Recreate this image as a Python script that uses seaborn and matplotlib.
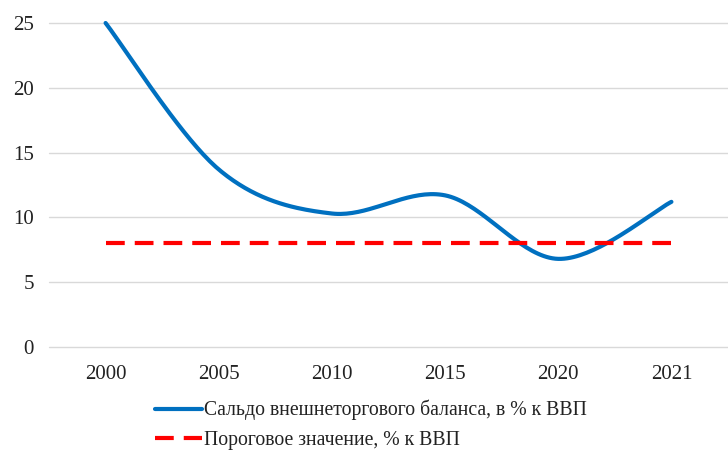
import numpy as np
import pandas as pd
import seaborn as sns
import matplotlib
matplotlib.use('Agg')
import matplotlib.pyplot as plt

# data
years = ['2000', '2005', '2010', '2015', '2020', '2021']
balance = [25.0, 13.7, 10.3, 11.7, 6.8, 11.2]
threshold = [8.0, 8.0, 8.0, 8.0, 8.0, 8.0]
label_balance = 'Сальдо внешнеторгового баланса, в % к ВВП'
label_threshold = 'Пороговое значение, % к ВВП'


def smooth(xs, ys, n=40):
    # Excel-style smoothed line: cubic Bezier segments with 1/6 tangents
    p = np.column_stack([xs, ys]).astype(float)
    out = []
    for i in range(len(p) - 1):
        p0 = p[i - 1] if i > 0 else p[i]
        p3 = p[i + 2] if i + 2 < len(p) else p[i + 1]
        a, b = p[i], p[i + 1]
        c1 = a + (b - p0) / 6
        c2 = b - (p3 - a) / 6
        t = np.linspace(0, 1, n)[:, None]
        seg = (1 - t) ** 3 * a + 3 * (1 - t) ** 2 * t * c1 + 3 * (1 - t) * t ** 2 * c2 + t ** 3 * b
        out.append(seg if i == 0 else seg[1:])
    return np.vstack(out)


pos = np.arange(len(years))
curve = smooth(pos, balance)
df_curve = pd.DataFrame({'x': curve[:, 0], 'y': curve[:, 1]})
df_thr = pd.DataFrame({'x': pos, 'y': threshold})

sns.set_style('white')
plt.rcParams['font.family'] = ['Liberation Serif', 'DejaVu Serif']

fig = plt.figure(figsize=(7.28, 4.51), dpi=100)
ax = fig.add_axes([49 / 728, 1 - 347 / 451, 1 - 49 / 728, (347 - 23) / 451])

sns.lineplot(data=df_curve, x='x', y='y', sort=False, ax=ax, color='#0070C0',
             linewidth=3, label=label_balance)
sns.lineplot(data=df_thr, x='x', y='y', ax=ax, color='#FF0000', linewidth=3,
             dashes=False, label=label_threshold)
ax.lines[1].set_dashes((4.5, 2.4))
ax.lines[1].set_dash_capstyle('butt')
for ln in ax.lines:
    ln.set_clip_on(False)

ax.set_xlim(-0.5, len(years) - 0.5)
ax.set_ylim(0, 25)
ax.set_yticks(range(0, 26, 5))
ax.set_xticks(pos)
ax.set_xticklabels(years)
ax.set_xlabel('')
ax.set_ylabel('')
ax.yaxis.grid(True, color='#d9d9d9', linewidth=1)
for g in ax.get_ygridlines():
    g.set_clip_on(False)
ax.set_axisbelow(True)
for s in ax.spines.values():
    s.set_visible(False)
ax.tick_params(axis='both', length=0, labelsize=15, colors='#222222')
ax.tick_params(axis='x', pad=13)
ax.tick_params(axis='y', pad=11)

handles, labels = ax.get_legend_handles_labels()
ax.legend_.remove()
leg = fig.legend(handles, labels, loc='upper left', bbox_to_anchor=(155 / 728, 1 - 400 / 451),
                 frameon=False, fontsize=14.2, handlelength=2.4, handletextpad=0.1,
                 labelspacing=0.52, borderpad=0, borderaxespad=0)
for t in leg.get_texts():
    t.set_color('#222222')

fig.savefig('out.png', dpi=100)
